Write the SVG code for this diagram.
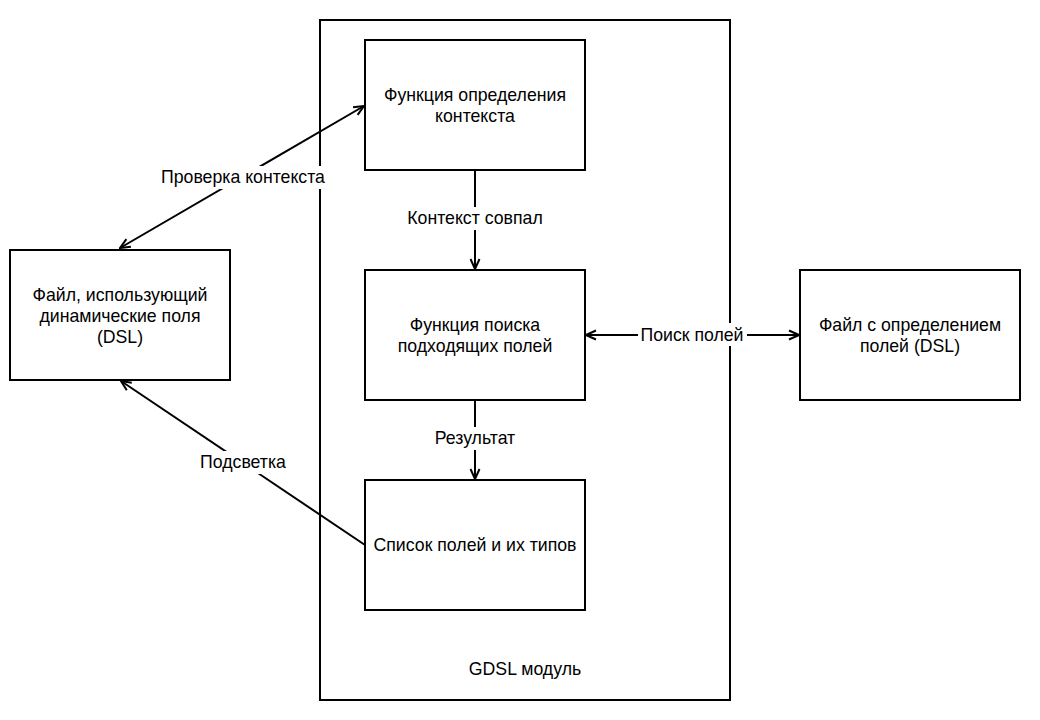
<svg xmlns="http://www.w3.org/2000/svg" width="1040" height="720" viewBox="0 0 1040 720">
<style>
.box{fill:#fff;stroke:#000;stroke-width:2}
.cont{fill:none;stroke:#000;stroke-width:2}
text{font-family:"Liberation Sans",Arial,sans-serif;font-size:17.7px;fill:#000;text-anchor:middle}
.edge{fill:none;stroke:#000;stroke-width:2}
.lbl{fill:#fff;stroke:none}
</style>
<defs>
<marker id="open" viewBox="0 0 12 12" refX="11" refY="6" markerWidth="12" markerHeight="12" markerUnits="userSpaceOnUse" orient="auto-start-reverse">
<path d="M1,1.5 L11,6 L1,10.5" fill="none" stroke="#000" stroke-width="2"/>
</marker>
</defs>
<rect width="1040" height="720" fill="#fff"/>
<g id="gdsl-module">
<rect class="cont" x="320" y="20" width="410" height="680"/>
<text x="525" y="675">GDSL модуль</text>
</g>
<g id="connectors">
<path class="edge" d="M120,248 L364,106" marker-start="url(#open)" marker-end="url(#open)"/>
<rect class="lbl" x="157" y="166" width="172" height="23"/>
<text x="243" y="183">Проверка контекста</text>
<path class="edge" d="M365,545 L121,381" marker-end="url(#open)"/>
<rect class="lbl" x="196" y="451" width="94" height="23"/>
<text x="243" y="468">Подсветка</text>
<path class="edge" d="M475,170 L475,269" marker-end="url(#open)"/>
<rect class="lbl" x="403" y="207" width="144" height="23"/>
<text x="475" y="224">Контекст совпал</text>
<path class="edge" d="M475,400 L475,479" marker-end="url(#open)"/>
<rect class="lbl" x="431" y="427" width="88" height="23"/>
<text x="475" y="444">Результат</text>
<path class="edge" d="M586,335 L799,335" marker-start="url(#open)" marker-end="url(#open)"/>
<rect class="lbl" x="638" y="323" width="109" height="23"/>
<text x="692" y="341">Поиск полей</text>
</g>
<g id="context-func">
<rect class="box" x="365" y="40" width="220" height="130"/>
<text x="475" y="101">Функция определения</text>
<text x="475" y="122">контекста</text>
</g>
<g id="search-func">
<rect class="box" x="365" y="270" width="220" height="130"/>
<text x="475" y="331">Функция поиска</text>
<text x="475" y="352">подходящих полей</text>
</g>
<g id="fields-list">
<rect class="box" x="365" y="480" width="220" height="130"/>
<text x="475" y="551">Список полей и их типов</text>
</g>
<g id="dsl-file">
<rect class="box" x="10" y="250" width="220" height="130"/>
<text x="120" y="301">Файл, использующий</text>
<text x="120" y="322">динамические поля</text>
<text x="120" y="343">(DSL)</text>
</g>
<g id="def-file">
<rect class="box" x="800" y="270" width="220" height="130"/>
<text x="910" y="331">Файл с определением</text>
<text x="910" y="352">полей (DSL)</text>
</g>
</svg>
